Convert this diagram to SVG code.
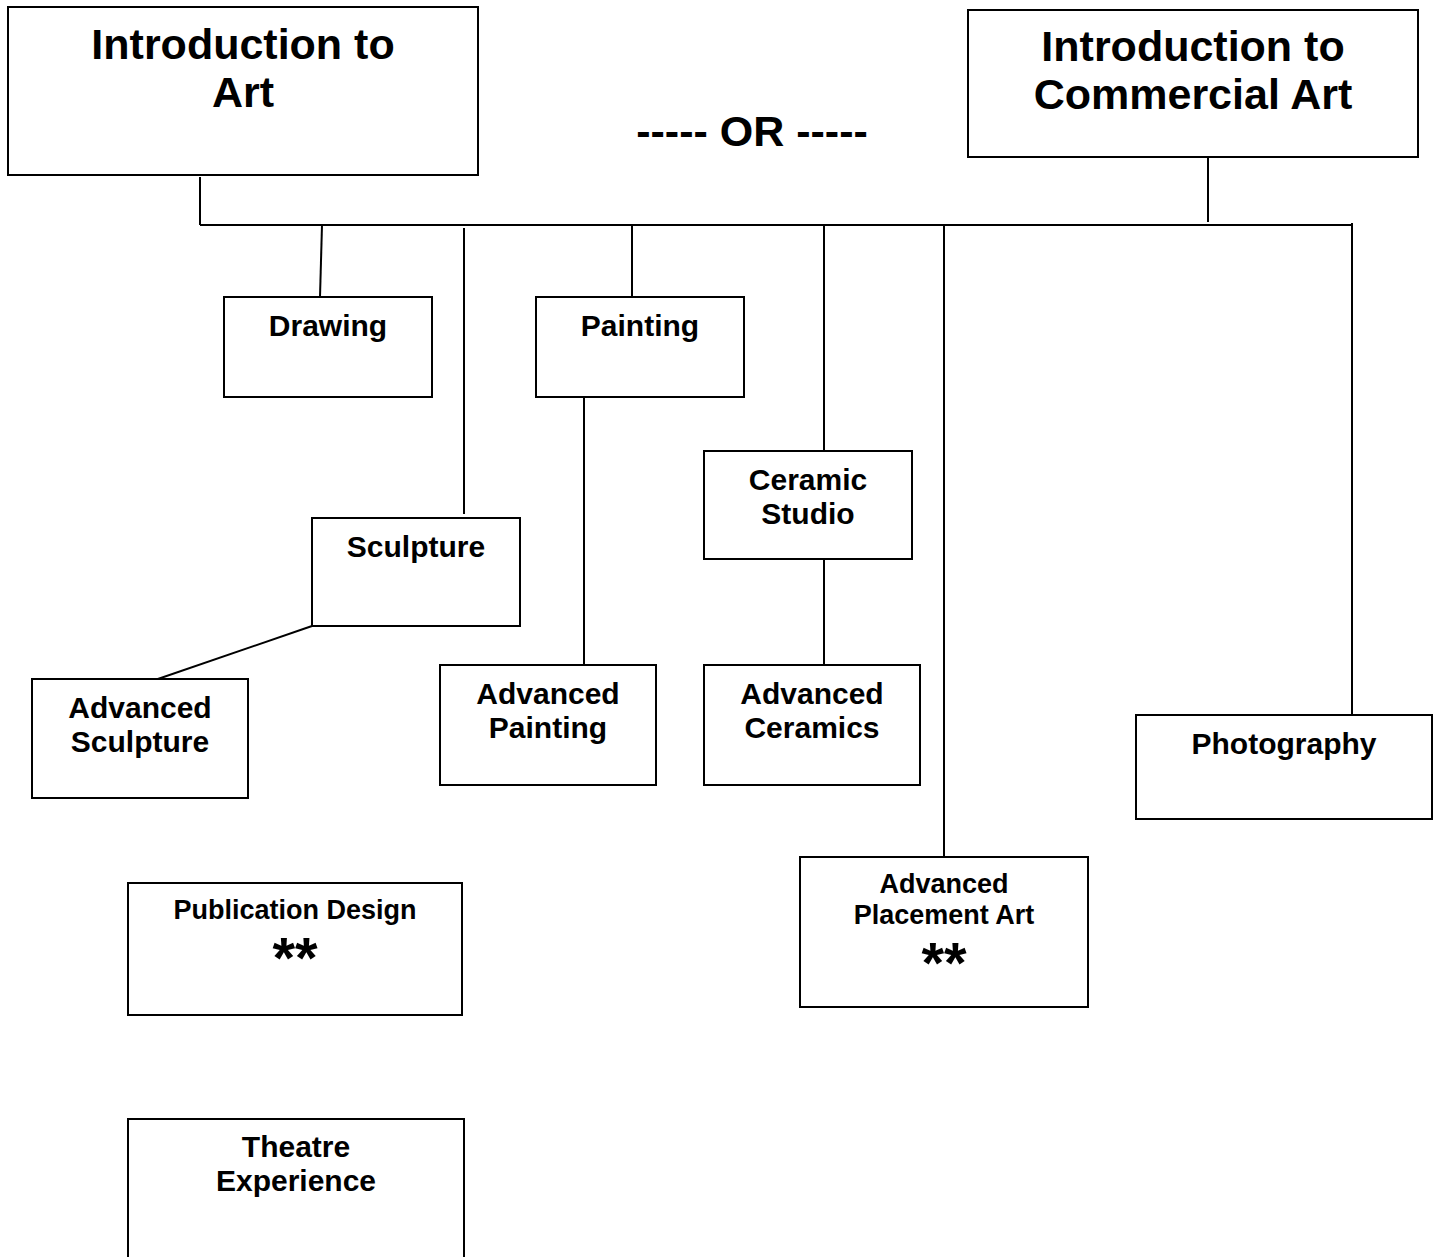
<svg xmlns="http://www.w3.org/2000/svg" width="1438" height="1257" viewBox="0 0 1438 1257">
<style>
  .box { fill: #ffffff; stroke: #000000; stroke-width: 2; }
  .conn { stroke: #000000; stroke-width: 2; fill: none; }
  text { font-family: "Liberation Sans", Arial, sans-serif; font-weight: bold; fill: #000000; text-anchor: middle; }
  .t1 { font-size: 43px; }
  .t2 { font-size: 30px; }
  .t3 { font-size: 27px; }
  .star { font-size: 58px; }
</style>
<rect width="1438" height="1257" fill="#ffffff"/>
<g id="connectors">
  <line class="conn" x1="200" y1="177" x2="200" y2="225"/>
  <line class="conn" x1="200" y1="225" x2="1353" y2="225"/>
  <line class="conn" x1="1208" y1="152" x2="1208" y2="222"/>
  <line class="conn" x1="322" y1="225" x2="320" y2="297"/>
  <line class="conn" x1="464" y1="228" x2="464" y2="514"/>
  <line class="conn" x1="632" y1="225" x2="632" y2="297"/>
  <line class="conn" x1="824" y1="225" x2="824" y2="451"/>
  <line class="conn" x1="944" y1="225" x2="944" y2="857"/>
  <line class="conn" x1="1352" y1="223" x2="1352" y2="715"/>
  <line class="conn" x1="584" y1="392" x2="584" y2="669"/>
  <line class="conn" x1="824" y1="559" x2="824" y2="667"/>
  <line class="conn" x1="312" y1="626" x2="152" y2="681"/>
</g>
<g id="intro-art">
  <rect class="box" x="8" y="7" width="470" height="168"/>
  <text class="t1" x="243" y="59">Introduction to</text>
  <text class="t1" x="243" y="107">Art</text>
</g>
<g id="or-label">
  <text class="t1" x="752" y="146">----- OR -----</text>
</g>
<g id="intro-commercial">
  <rect class="box" x="968" y="10" width="450" height="147"/>
  <text class="t1" x="1193" y="61">Introduction to</text>
  <text class="t1" x="1193" y="109">Commercial Art</text>
</g>
<g id="drawing">
  <rect class="box" x="224" y="297" width="208" height="100"/>
  <text class="t2" x="328" y="336">Drawing</text>
</g>
<g id="painting">
  <rect class="box" x="536" y="297" width="208" height="100"/>
  <text class="t2" x="640" y="336">Painting</text>
</g>
<g id="ceramic-studio">
  <rect class="box" x="704" y="451" width="208" height="108"/>
  <text class="t2" x="808" y="490">Ceramic</text>
  <text class="t2" x="808" y="524">Studio</text>
</g>
<g id="sculpture">
  <rect class="box" x="312" y="518" width="208" height="108"/>
  <text class="t2" x="416" y="557">Sculpture</text>
</g>
<g id="advanced-sculpture">
  <rect class="box" x="32" y="679" width="216" height="119"/>
  <text class="t2" x="140" y="718">Advanced</text>
  <text class="t2" x="140" y="752">Sculpture</text>
</g>
<g id="advanced-painting">
  <rect class="box" x="440" y="665" width="216" height="120"/>
  <text class="t2" x="548" y="704">Advanced</text>
  <text class="t2" x="548" y="738">Painting</text>
</g>
<g id="advanced-ceramics">
  <rect class="box" x="704" y="665" width="216" height="120"/>
  <text class="t2" x="812" y="704">Advanced</text>
  <text class="t2" x="812" y="738">Ceramics</text>
</g>
<g id="photography">
  <rect class="box" x="1136" y="715" width="296" height="104"/>
  <text class="t2" x="1284" y="754">Photography</text>
</g>
<g id="ap-art">
  <rect class="box" x="800" y="857" width="288" height="150"/>
  <text class="t3" x="944" y="893">Advanced</text>
  <text class="t3" x="944" y="924">Placement Art</text>
  <text class="star" x="944" y="983">**</text>
</g>
<g id="publication-design">
  <rect class="box" x="128" y="883" width="334" height="132"/>
  <text class="t3" x="295" y="919">Publication Design</text>
  <text class="star" x="295" y="978">**</text>
</g>
<g id="theatre-experience">
  <rect class="box" x="128" y="1119" width="336" height="150"/>
  <text class="t2" x="296" y="1157">Theatre</text>
  <text class="t2" x="296" y="1191">Experience</text>
</g>
</svg>
